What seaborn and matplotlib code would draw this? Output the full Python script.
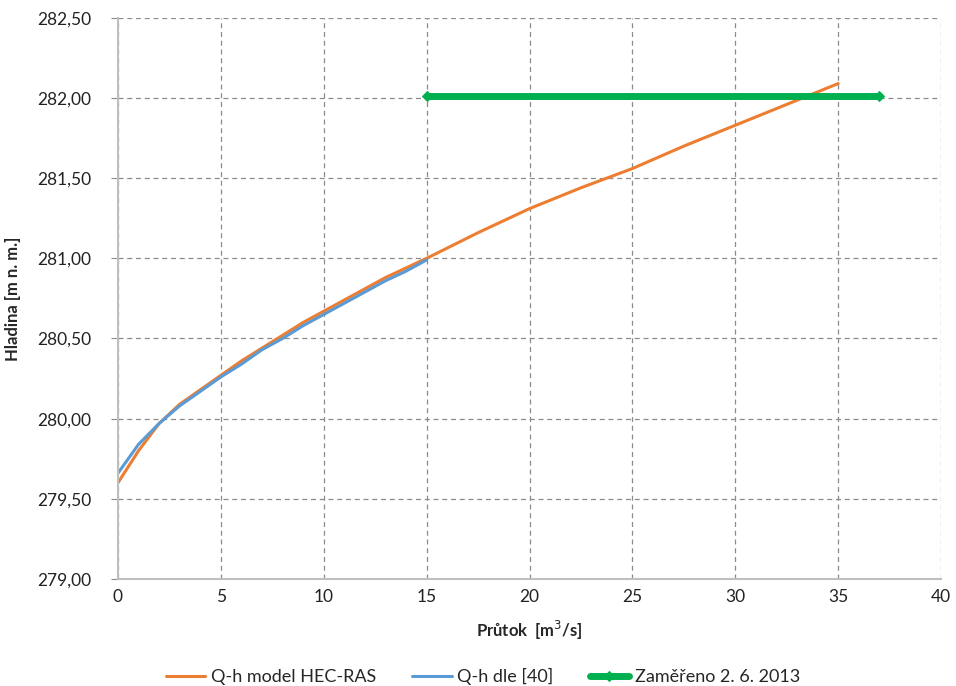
import matplotlib
matplotlib.use("Agg")
import matplotlib.pyplot as plt
import matplotlib.ticker as mticker
import seaborn as sns

# Q-h model HEC-RAS
q_hec = [0, 0.5, 1, 2, 3, 4, 5, 6, 7, 8, 9, 10, 11, 12, 13, 14, 15,
         17.5, 20, 22.5, 25, 27.5, 30, 32.5, 35]
h_hec = [279.60, 279.70, 279.80, 279.97, 280.09, 280.18, 280.27, 280.36, 280.44,
         280.52, 280.60, 280.67, 280.74, 280.81, 280.88, 280.94, 281.00,
         281.16, 281.31, 281.44, 281.56, 281.70, 281.83, 281.96, 282.09]

# Q-h dle [40]
q_40 = [0, 0.5, 1, 2, 3, 4, 5, 6, 7, 8, 9, 10, 11, 12, 13, 14, 15]
h_40 = [279.66, 279.75, 279.84, 279.97, 280.08, 280.17, 280.26, 280.34, 280.43,
        280.50, 280.58, 280.65, 280.72, 280.79, 280.86, 280.92, 280.99]

# Zaměřeno 2. 6. 2013
q_mer = [15, 37]
h_mer = [282.01, 282.01]

labels = ["Q-h model HEC-RAS", "Q-h dle [40]", "Zaměřeno 2. 6. 2013"]
colors = ["#ED7D31", "#5B9BD5", "#00B050"]

sns.set_style("white")
plt.rcParams["font.family"] = ["Lato", "DejaVu Sans"]

fig = plt.figure(figsize=(9.56, 6.86), dpi=100)
ax = fig.add_axes([0.1234, 0.156, 0.861, 0.818])

sns.lineplot(x=q_hec, y=h_hec, ax=ax, color=colors[0], linewidth=2.2, label=labels[0])
sns.lineplot(x=q_40, y=h_40, ax=ax, color=colors[1], linewidth=2.2, label=labels[1])
sns.lineplot(x=q_mer, y=h_mer, ax=ax, color=colors[2], linewidth=5,
             marker="D", markersize=5, markeredgecolor=colors[2],
             solid_capstyle="round", label=labels[2])

ax.set_xlim(0, 40)
ax.set_ylim(279.0, 282.5)
ax.xaxis.set_major_locator(mticker.MultipleLocator(5))
ax.yaxis.set_major_locator(mticker.MultipleLocator(0.5))
ax.yaxis.set_major_formatter(mticker.FuncFormatter(lambda v, p: f"{v:.2f}".replace(".", ",")))

ax.grid(True, color="#8c8c8c", linestyle=(0, (4, 3)), linewidth=0.9)
for s in ["top", "right"]:
    ax.spines[s].set_visible(False)
for s in ["left", "bottom"]:
    ax.spines[s].set_color("#bfbfbf")
    ax.spines[s].set_linewidth(1.5)
ax.tick_params(axis="y", left=True, length=5, color="#8c8c8c", labelsize=12.5, colors="#222222", pad=14)
ax.tick_params(axis="x", bottom=False, labelsize=12.5, colors="#222222", pad=4)

ax.set_xlabel("Průtok  [m$^3$/s]", fontsize=12, fontweight="bold", labelpad=10)
ax.set_ylabel("Hladina [m n. m.]", fontsize=12, fontweight="bold", labelpad=12)

ax.legend(loc="lower center", bbox_to_anchor=(0.505, -0.022), bbox_transform=fig.transFigure,
          ncol=3, frameon=False, fontsize=13, handlelength=2.2, columnspacing=2.0,
          handletextpad=0.3)

fig.savefig("out.png", dpi=100)
